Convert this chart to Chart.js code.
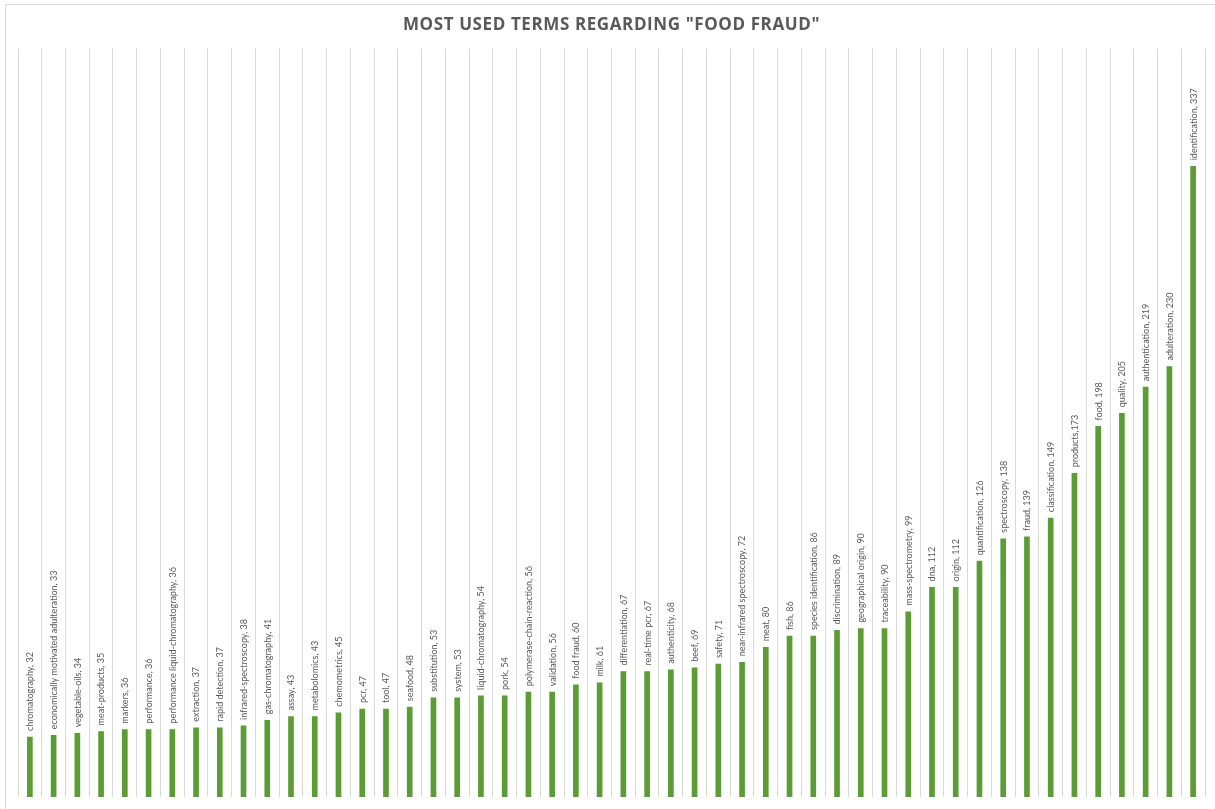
<!DOCTYPE html>
<html>
<head>
<meta charset="utf-8">
<script src="https://cdn.jsdelivr.net/npm/chart.js@4/dist/chart.umd.min.js"></script>
<style>
  html, body { margin: 0; padding: 0; background: #ffffff; }
  #wrap { position: relative; width: 1215px; height: 809px; }
</style>
</head>
<body>
<div id="wrap"><canvas id="c" width="1215" height="809"></canvas></div>
<script>
const titleText = 'MOST USED TERMS REGARDING "FOOD FRAUD"';

const terms = [
  'chromatography', 'economically motivated adulteration', 'vegetable-oils', 'meat-products',
  'markers', 'performance', 'performance liquid-chromatography', 'extraction', 'rapid detection',
  'infrared-spectroscopy', 'gas-chromatography', 'assay', 'metabolomics', 'chemometrics', 'pcr',
  'tool', 'seafood', 'substitution', 'system', 'liquid-chromatography', 'pork',
  'polymerase-chain-reaction', 'validation', 'food fraud', 'milk', 'differentiation',
  'real-time pcr', 'authenticity', 'beef', 'safety', 'near-infrared spectroscopy', 'meat', 'fish',
  'species identification', 'discrimination', 'geographical origin', 'traceability',
  'mass-spectrometry', 'dna', 'origin', 'quantification', 'spectroscopy', 'fraud',
  'classification', 'products', 'food', 'quality', 'authentication', 'adulteration',
  'identification'
];

const counts = [
  32, 33, 34, 35, 36, 36, 36, 37, 37, 38, 41, 43, 43, 45, 47, 47, 48, 53, 53, 54, 54, 56, 56,
  60, 61, 67, 67, 68, 69, 71, 72, 80, 86, 86, 89, 90, 90, 99, 112, 112, 126, 138, 139, 149,
  173, 198, 205, 219, 230, 337
];

const separators = terms.map(t => (t === 'products' ? ',' : ', '));
const pointLabels = terms.map((t, i) => t + separators[i] + counts[i]);

const yMin = 0;
const yMax = 400;

const frame = {
  id: 'frame',
  beforeDraw(chart) {
    const ctx = chart.ctx;
    ctx.save();
    ctx.strokeStyle = '#d9d9d9';
    ctx.lineWidth = 1;
    ctx.beginPath();
    ctx.moveTo(5.5, 809);
    ctx.lineTo(5.5, 4.5);
    ctx.lineTo(1215, 4.5);
    ctx.stroke();
    ctx.restore();
    chart.ctx.letterSpacing = '0.6px';
  },
  beforeDatasetsDraw(chart) {
    chart.ctx.letterSpacing = '0px';
  }
};

const barLabels = {
  id: 'barLabels',
  afterDatasetsDraw(chart) {
    const ctx = chart.ctx;
    const meta = chart.getDatasetMeta(0);
    ctx.save();
    ctx.letterSpacing = '0px';
    ctx.font = '9px Lato';
    ctx.fillStyle = '#595959';
    ctx.textAlign = 'left';
    ctx.textBaseline = 'middle';
    meta.data.forEach((el, i) => {
      ctx.save();
      ctx.translate(el.x + 0.5, el.y - 6);
      ctx.rotate(-Math.PI / 2);
      ctx.fillText(pointLabels[i], 0, 0);
      ctx.restore();
    });
    ctx.restore();
  }
};

new Chart(document.getElementById('c'), {
  type: 'bar',
  data: {
    labels: terms,
    datasets: [{
      data: counts,
      backgroundColor: '#5b9c34',
      borderWidth: 0,
      barThickness: 5
    }]
  },
  options: {
    responsive: false,
    animation: false,
    layout: { padding: { top: 4, left: 18, right: 10, bottom: 12 } },
    plugins: {
      legend: { display: false },
      tooltip: { enabled: false },
      title: {
        display: true,
        text: titleText,
        color: '#595959',
        font: { family: 'Open Sans', size: 17, weight: 'bold', lineHeight: 1.2 },
        padding: { top: 11, bottom: 13 }
      }
    },
    scales: {
      x: {
        display: true,
        offset: true,
        grid: { display: true, offset: true, color: '#d9d9d9', lineWidth: 1, drawTicks: false },
        border: { display: false },
        ticks: { display: false, padding: 0 }
      },
      y: {
        display: false,
        min: yMin,
        max: yMax
      }
    }
  },
  plugins: [frame, barLabels]
});
</script>
</body>
</html>
